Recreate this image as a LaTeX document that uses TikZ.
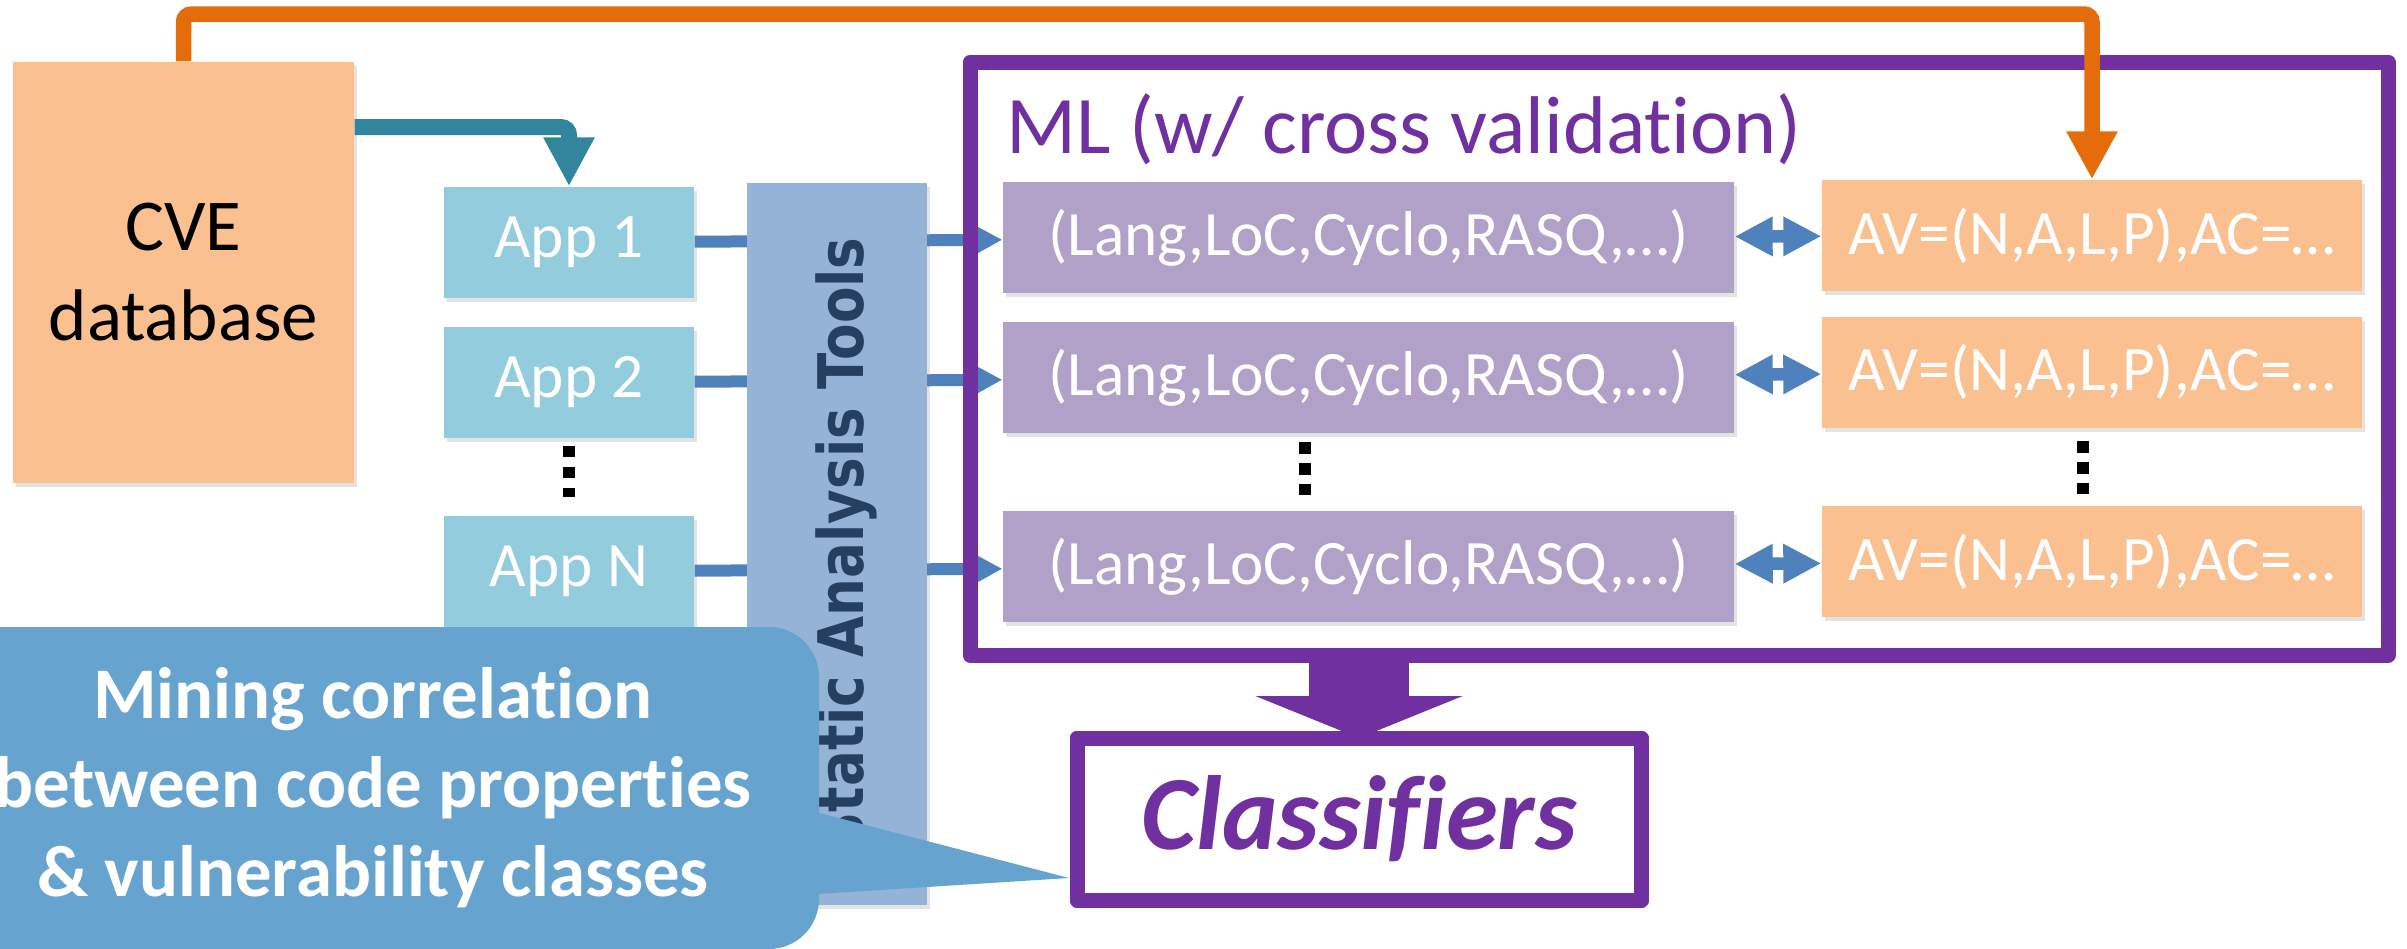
\documentclass[tikz,border=0pt]{standalone}
\usepackage{fontspec}
\setmainfont{Carlito}[Ligatures=NoCommon]
\newfontfamily\barfont{DejaVu Sans}
\usetikzlibrary{arrows.meta,shadows}
\definecolor{cvecol}{HTML}{FAC090}
\definecolor{appcol}{HTML}{93CDDD}
\definecolor{barcol}{HTML}{95B3D7}
\definecolor{bartext}{HTML}{243F60}
\definecolor{featcol}{HTML}{B1A0C7}
\definecolor{avcol}{HTML}{FAC090}
\definecolor{tealcol}{HTML}{31859C}
\definecolor{orangecol}{HTML}{E46C0A}
\definecolor{mlcol}{HTML}{7030A0}
\definecolor{linkcol}{HTML}{4F81BD}
\definecolor{callcol}{HTML}{67A3CF}

\begin{document}
\begin{tikzpicture}[x=0.1mm,y=-0.1mm,
    shade/.style={drop shadow={shadow xshift=0.3mm,shadow yshift=-0.4mm,opacity=0.22}},
    box/.style={shape=rectangle, inner sep=0pt, minimum height=11.1mm, text=white, font=\fontsize{18}{22}\selectfont, shade},
    app/.style={box, fill=appcol, minimum width=25mm},
    feat/.style={box, fill=featcol, minimum width=73.1mm},
    av/.style={box, fill=avcol, minimum width=54mm},
    frame/.style={draw=mlcol, line width=1.5mm, line join=round, inner sep=0pt, outer sep=0pt},
    link/.style={draw=linkcol, line width=1.2mm, -{Triangle[length=2.6mm,width=2.6mm]}},
    twoway/.style={draw=linkcol, line width=1.25mm, {Triangle[length=3.8mm,width=3.7mm]}-{Triangle[length=3.8mm,width=3.7mm]}},
    vdots/.style={line width=1.15mm, dash pattern=on 1.15mm off 0.95mm}]
    \useasboundingbox (0,0) rectangle (2407,948);
    \clip (0,0) rectangle (2407,948);

    \node[box, fill=cvecol, text=black, minimum width=34.1mm, minimum height=42.1mm, align=center,
          font=\fontsize{20.8}{25.6}\selectfont] (cve) at (183.5,272.5) {CVE\\database};

    \node[app] (app1) at (569,242.5) {App 1};
    \node[app] (app2) at (569,382.5) {App 2};
    \node[app] (appN) at (569,571.5) {App N};
    \draw[vdots] ([yshift=-0.7mm]app2.south) -- ([yshift=1.8mm]appN.north);

    \node[feat] (feat1) at (1368.5,237.5) {(Lang,LoC,Cyclo,RASQ,…)};
    \node[feat] (feat2) at (1368.5,377.5) {(Lang,LoC,Cyclo,RASQ,…)};
    \node[feat] (feat3) at (1368.5,566.5) {(Lang,LoC,Cyclo,RASQ,…)};
    \node[av] (av1) at (2092,235.5) {AV=(N,A,L,P),AC=…};
    \node[av] (av2) at (2092,372) {AV=(N,A,L,P),AC=…};
    \node[av] (av3) at (2092,561.5) {AV=(N,A,L,P),AC=…};
    \draw[vdots] (1305,442) -- (1305,495);
    \draw[vdots] (2083,441) -- (2083,494);

    \draw[link] (app1) -- (feat1);
    \draw[link] (app2) -- (feat2);
    \draw[link] (appN) -- (feat3);

    \node[box, fill=barcol, minimum width=18mm, minimum height=72.2mm] (bar) at (837,544) {};
    \node[rotate=90, anchor=base, text=bartext, font=\barfont\bfseries\fontsize{17.9}{20}\selectfont]
        (bartxt) at ([xshift=2.6mm]bar.center) {\scalebox{0.845}[1]{Static Analysis Tools}};

    \node[frame, minimum width=141.8mm, minimum height=59.3mm] (ml) at (1679,358.5) {};
    \node[anchor=base west, text=mlcol, font=\fontsize{23.3}{28}\selectfont] (title) at (994,153) {ML (w/ cross validation)};

    \draw[twoway] (feat1) -- (av1);
    \draw[twoway] (feat2) -- (av2);
    \draw[twoway] (feat3) -- (av3);

    \draw[tealcol, line width=1.6mm, rounded corners=0.8mm, -{Triangle[length=4.9mm,width=4.8mm]}]
        ([yshift=14.55mm]cve.east) -| (app1.north);
    \coordinate (otop) at (183.5,14);
    \draw[orangecol, line width=1.55mm, rounded corners=0.8mm, -{Triangle[length=4.8mm,width=4.8mm]}]
        (cve.north) -- (otop) -| (av1.north);

    \node[frame, fill=white, minimum width=56.4mm, minimum height=16.2mm, text=mlcol,
          font=\bfseries\itshape\fontsize{30}{36}\selectfont] (cls) at (1359,819) {Classifiers};
    \draw[mlcol, line width=10mm, -{Triangle[length=4.2mm,width=20.6mm]}] (cls.north |- ml.south) -- (cls.north);
    \node[frame, draw=mlcol, minimum width=56.4mm, minimum height=16.2mm] at (cls.center) {};

    \node[fill=callcol, rounded corners=5mm, inner sep=0pt, minimum width=89.2mm, minimum height=32.2mm,
          text=white, align=center, font=\bfseries\fontsize{20.7}{25.3}\selectfont]
        (note) at (373,788) {Mining correlation\\between code properties\\\& vulnerability classes};
    \coordinate (tip) at ([xshift=-0.8mm,yshift=-5.9mm]cls.west);
    \fill[callcol] ([xshift=-5mm,yshift=-1.2mm]note.east) -- (tip) -- ([xshift=-5mm,yshift=-10.9mm]note.east) -- cycle;
\end{tikzpicture}
\end{document}
